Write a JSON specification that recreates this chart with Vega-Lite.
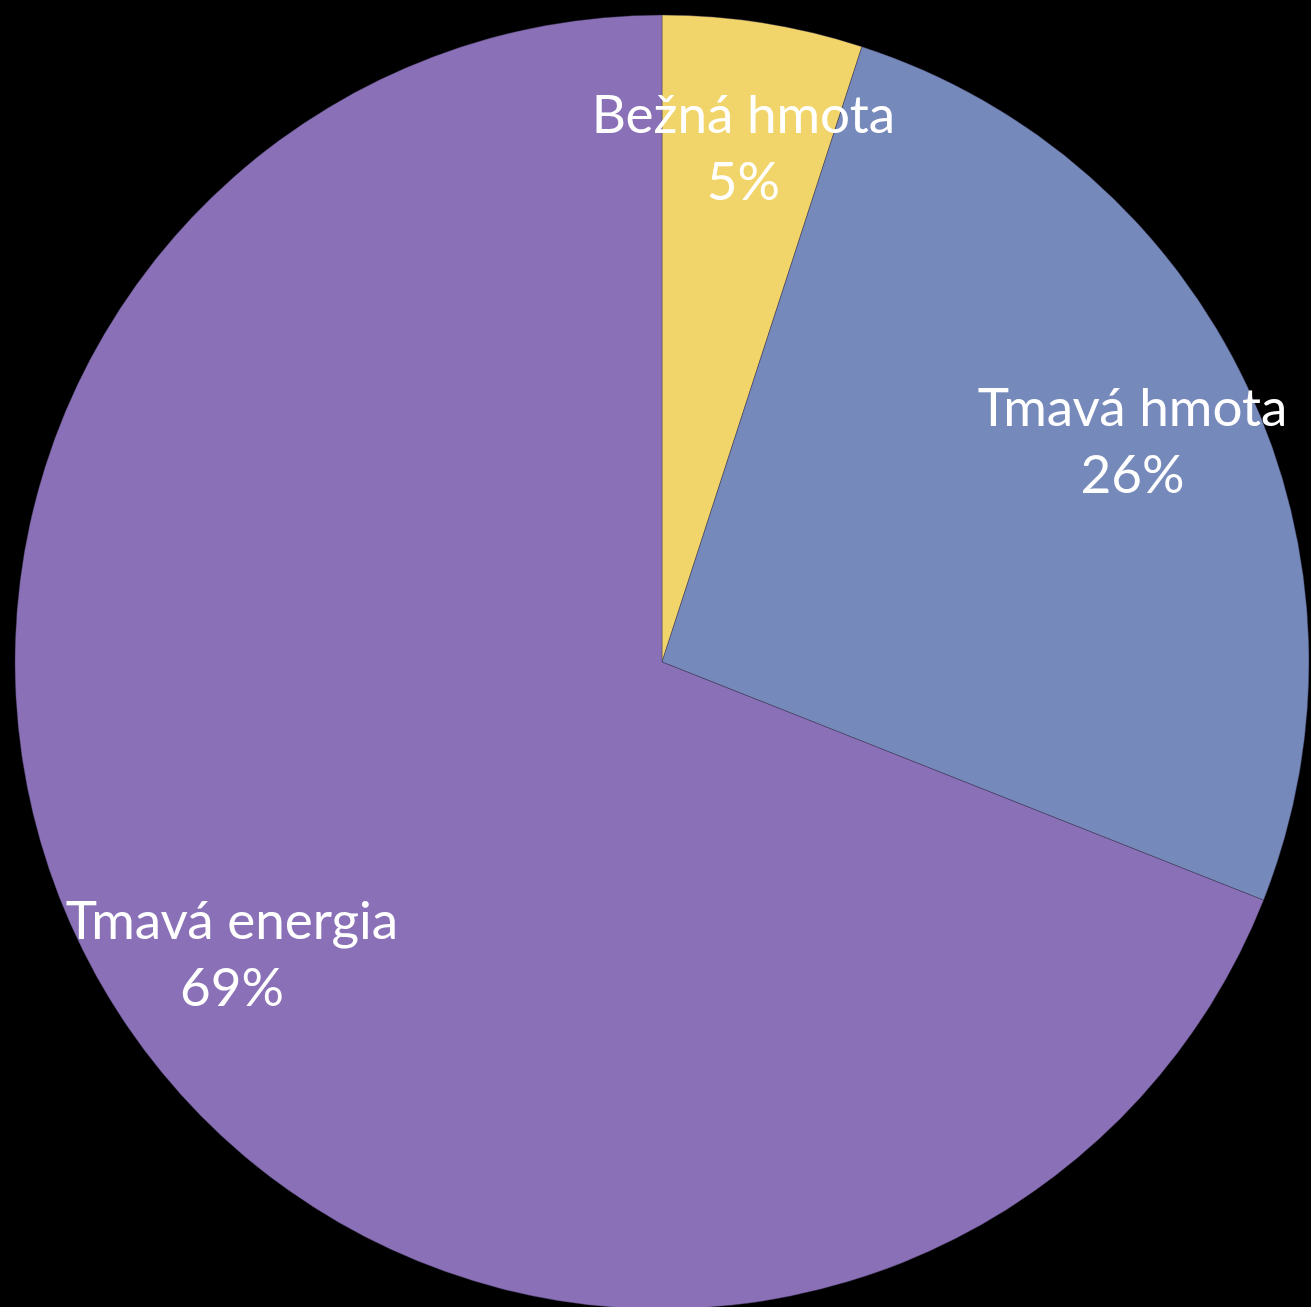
{
  "$schema": "https://vega.github.io/schema/vega-lite/v6.json",
  "width": 1324,
  "height": 1324,
  "autosize": "none",
  "padding": 0,
  "background": "#000000",
  "view": {"stroke": null},
  "data": {
    "values": [
      {"name": "Bežná hmota", "value": 5, "idx": 1, "label": "Bežná hmota\n5%"},
      {"name": "Tmavá hmota", "value": 26, "idx": 2, "label": "Tmavá hmota\n26%"},
      {"name": "Tmavá energia", "value": 69, "idx": 3, "label": "Tmavá energia\n69%"}
    ]
  },
  "encoding": {
    "theta": {"field": "value", "type": "quantitative", "stack": true},
    "order": {"field": "idx", "type": "quantitative"}
  },
  "layer": [
    {
      "mark": {"type": "arc", "outerRadius": 647, "stroke": "#3a3050", "strokeWidth": 1, "strokeOpacity": 0.4},
      "encoding": {
        "color": {
          "field": "name",
          "type": "nominal",
          "scale": {"domain": ["Bežná hmota", "Tmavá hmota", "Tmavá energia"], "range": ["#F1D56B", "#7589BA", "#8A71B7"]},
          "legend": null
        }
      }
    },
    {
      "mark": {"type": "text", "radius": 520, "font": "Lato", "fontSize": 53, "lineBreak": "\n", "lineHeight": 67, "align": "center", "baseline": "middle", "fill": "#FFFFFF", "dy": -31},
      "encoding": {"text": {"field": "label", "type": "nominal"}}
    }
  ]
}
